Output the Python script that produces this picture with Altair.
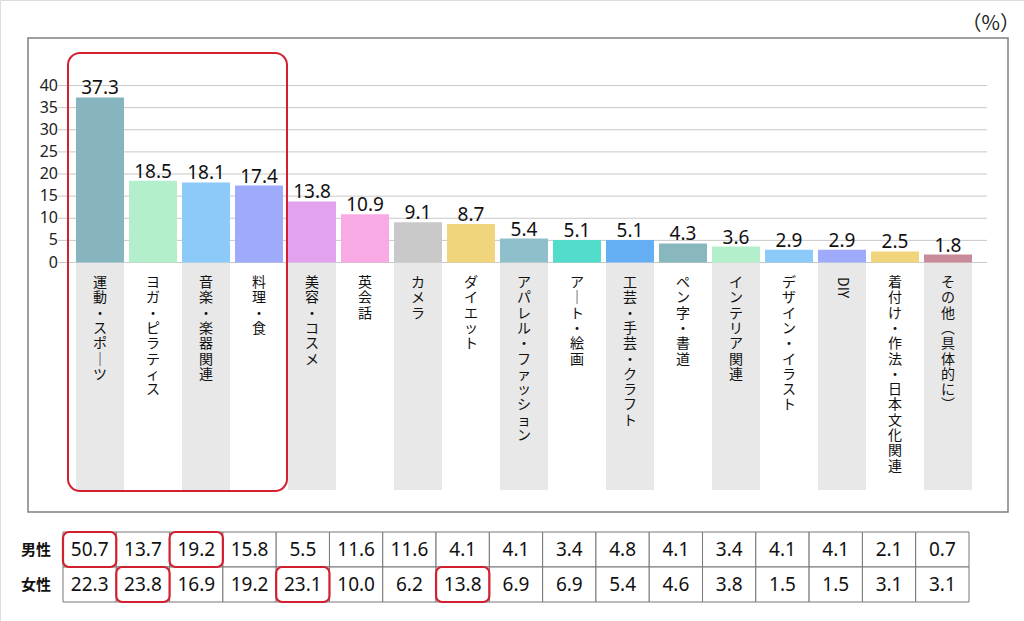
import altair as alt
import pandas as pd

# ---------------- data ----------------
categories = [
    "運動・スポーツ", "ヨガ・ピラティス", "音楽・楽器関連", "料理・食", "美容・コスメ",
    "英会話", "カメラ", "ダイエット", "アパレル・ファッション", "アート・絵画",
    "工芸・手芸・クラフト", "ペン字・書道", "インテリア関連", "デザイン・イラスト",
    "DIY", "着付け・作法・日本文化関連", "その他（具体的に）",
]
totals = [37.3, 18.5, 18.1, 17.4, 13.8, 10.9, 9.1, 8.7, 5.4, 5.1, 5.1, 4.3, 3.6, 2.9, 2.9, 2.5, 1.8]
male = [50.7, 13.7, 19.2, 15.8, 5.5, 11.6, 11.6, 4.1, 4.1, 3.4, 4.8, 4.1, 3.4, 4.1, 4.1, 2.1, 0.7]
female = [22.3, 23.8, 16.9, 19.2, 23.1, 10.0, 6.2, 13.8, 6.9, 6.9, 5.4, 4.6, 3.8, 1.5, 1.5, 3.1, 3.1]
row_names = ["男性", "女性"]
y_ticks = [0, 5, 10, 15, 20, 25, 30, 35, 40]
highlights = [
    ("男性", "運動・スポーツ"), ("男性", "音楽・楽器関連"),
    ("女性", "ヨガ・ピラティス"), ("女性", "美容・コスメ"), ("女性", "ダイエット"),
]

# ---------------- styles ----------------
palette = [
    "#86b4bf", "#b3efcb", "#8ccafa", "#9eaafa", "#e3a2ee", "#f9aae5", "#c8c9c8",
    "#f0d57c", "#8fbfca", "#52dccb", "#66aef4", "#88b7bd", "#b3efcb", "#8ccafa",
    "#9eaafa", "#f0d57c", "#c98b99",
]
RED = "#d3202f"
JP = "Noto Sans CJK JP"
NUM = "Noto Sans"

VERT = {"ー": "｜", "（": "︵", "）": "︶", "(": "︵", ")": "︶"}


def vertical(s):
    return "\n".join(VERT.get(ch, ch) for ch in s)


df_bars = pd.DataFrame({"category": categories, "total": totals})
df_bars["idx"] = range(len(categories))
df_bars["vlabel"] = [vertical(c) for c in categories]
df_bars["latin"] = [c.isascii() for c in categories]

df_ticks = pd.DataFrame({"tick": y_ticks})

hl_set = set(highlights)
rows = []
for r, vals in zip(row_names, [male, female]):
    for c, v in zip(categories, vals):
        rows.append({"row": r, "category": c, "value": v, "hl": (r, c) in hl_set})
df_table = pd.DataFrame(rows)
df_rows = pd.DataFrame({"row": row_names})
one = pd.DataFrame({"a": [0]})

# ---------------- scales ----------------
x_scale = alt.Scale(domain=categories, range=[73.5, 974.5],
                    paddingInner=5 / 53, paddingOuter=2.5 / 53)
y_scale = alt.Scale(domain=[0, 40], range=[262.5, 85.5], nice=False, zero=True)
X = alt.X("category:N", scale=x_scale, axis=None)

tx_scale = alt.Scale(domain=categories, range=[63, 969], paddingInner=0, paddingOuter=0)
ty_scale = alt.Scale(domain=row_names, range=[532, 602], paddingInner=0, paddingOuter=0)
TX = alt.X("category:N", scale=tx_scale, axis=None)
TY = alt.Y("row:N", scale=ty_scale, axis=None)

# ---------------- layers ----------------
frame = alt.Chart(one).mark_rect(fillOpacity=0, stroke="#808080", strokeWidth=1.5).encode(
    x=alt.value(28), x2=alt.value(1008), y=alt.value(38), y2=alt.value(512))

grid = alt.Chart(df_ticks).mark_rule(color="#c8c8c8", strokeWidth=1).encode(
    y=alt.Y("tick:Q", scale=y_scale, axis=None), x=alt.value(58), x2=alt.value(987))

ylabels = alt.Chart(df_ticks).mark_text(align="right", baseline="middle", fontSize=16,
                                        font=NUM, color="#222").encode(
    y=alt.Y("tick:Q", scale=y_scale, axis=None), x=alt.value(58), text="tick:Q")

strips = alt.Chart(df_bars).transform_filter("datum.idx % 2 == 0").mark_bar(
    color="#e8e8e8").encode(x=X, y=alt.value(262.5), y2=alt.value(490))

bars = alt.Chart(df_bars).mark_bar().encode(
    x=X,
    y=alt.Y("total:Q", scale=y_scale, axis=None),
    color=alt.Color("category:N", scale=alt.Scale(domain=categories, range=palette), legend=None),
)

values = alt.Chart(df_bars).mark_text(baseline="alphabetic", dy=-3, fontSize=19,
                                      font=NUM, color="#111").encode(
    x=X, y=alt.Y("total:Q", scale=y_scale, axis=None),
    text=alt.Text("total:Q", format=".1f"))

cat_jp = alt.Chart(df_bars).transform_filter("!datum.latin").mark_text(
    baseline="top", align="center", lineBreak="\n", lineHeight=15.3,
    fontSize=14, font=JP, color="#111").encode(x=X, y=alt.value(276), text="vlabel:N")

cat_latin = alt.Chart(df_bars).transform_filter("datum.latin").mark_text(
    angle=90, align="left", baseline="middle", fontSize=14, font=JP,
    color="#111").encode(x=X, y=alt.value(277), text="category:N")

redbox = alt.Chart(one).mark_rect(fillOpacity=0, stroke=RED, strokeWidth=2,
                                  cornerRadius=12).encode(
    x=alt.value(68), x2=alt.value(287), y=alt.value(53), y2=alt.value(491))

cells = alt.Chart(df_table).mark_rect(fill="white", stroke="#777", strokeWidth=1).encode(
    x=TX, y=TY)

cell_text = alt.Chart(df_table).mark_text(baseline="middle", fontSize=19, font=NUM,
                                          color="#111").encode(
    x=TX, y=TY, text=alt.Text("value:Q", format=".1f"))

hl = alt.Chart(df_table).transform_filter("datum.hl").mark_rect(
    fillOpacity=0, stroke=RED, strokeWidth=2.2, cornerRadius=6).encode(x=TX, y=TY)

row_labels = alt.Chart(df_rows).mark_text(fontSize=15, fontWeight="bold", font=JP,
                                          color="#111", baseline="middle").encode(
    y=TY, x=alt.value(36), text="row:N")

unit = alt.Chart(one).mark_text(align="right", baseline="middle", fontSize=20, font=JP,
                                color="#222").encode(
    x=alt.value(1020), y=alt.value(24), text=alt.value("（%）"))

chart = alt.layer(
    frame, grid, strips, bars, values, cat_jp, cat_latin, ylabels, redbox,
    cells, cell_text, hl, row_labels, unit,
).resolve_scale(x="independent", y="independent", color="independent").properties(
    width=1024, height=621, padding=0,
    autosize=alt.AutoSizeParams(type="none"),
).configure_view(stroke=None).configure(background="white")

chart.save("out.html", embed_options={"renderer": "svg", "actions": False})
